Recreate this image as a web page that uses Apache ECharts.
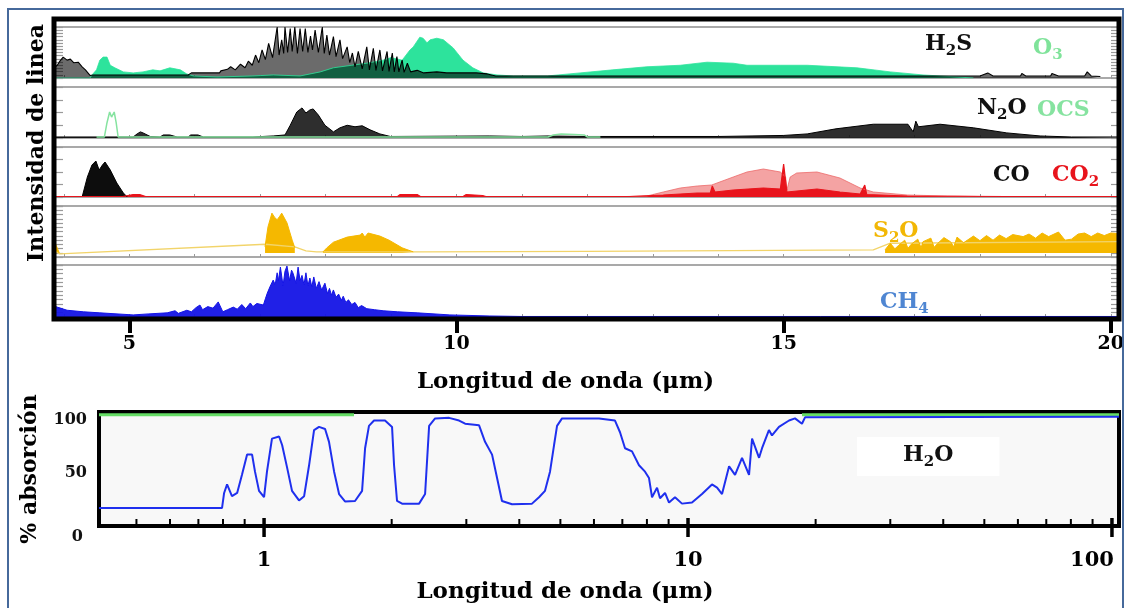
<!DOCTYPE html>
<html><head><meta charset="utf-8">
<script src="https://cdn.jsdelivr.net/npm/echarts@6.0.0/dist/echarts.min.js"></script>
<style>html,body{margin:0;padding:0;background:#fff}#c{width:1125px;height:608px}</style>
</head><body><div id="c"></div>
<script>
// ---------- data ----------
const topTickValues = [5, 10, 15, 20];
const topMinorValues = [4,5,6,7,8,9,10,11,12,13,14,15,16,17,18,19,20];
const logMajorTicks = [1, 10, 100];
const logMinorTicks = [0.5,0.6,0.7,0.8,0.9,2,3,4,5,6,7,8,9,20,30,40,50,60,70,80,90];

// panel 1: O3 (green) and H2S (black), wavelength µm, relative intensity %
const o3Band = [[3.85,0],[4.40,0],[4.43,6],[4.50,16],[4.55,35],[4.60,41],[4.66,41],[4.71,25],[4.78,20],[4.91,12],[5.06,10],[5.21,12],[5.36,16],[5.47,14],[5.62,20],[5.78,16],[5.88,8],[5.98,4],[6.34,2],[6.89,4],[7.20,6],[7.61,4],[7.92,12],[8.12,20],[8.40,25],[8.63,29],[8.88,35],[9.00,40],[9.17,35],[9.29,55],[9.34,61],[9.44,80],[9.49,78],[9.55,69],[9.60,75],[9.70,78],[9.80,75],[9.95,59],[10.10,35],[10.25,20],[10.41,10],[10.62,6],[10.87,4],[11.39,4],[11.89,10],[12.39,16],[12.91,22],[13.42,25],[13.83,31],[14.23,29],[14.44,25],[14.95,25],[15.36,25],[16.12,20],[16.63,12],[17.13,6],[17.65,2],[17.90,0]];
const h2sLines = [[3.85,20],[3.90,25],[3.94,33],[3.99,41],[4.05,35],[4.10,37],[4.15,30],[4.22,31],[4.28,22],[4.33,16],[4.40,5],[4.45,6],[5.90,6],[5.95,10],[6.38,10],[6.40,14],[6.50,17],[6.55,22],[6.62,16],[6.70,27],[6.77,20],[6.82,33],[6.88,25],[6.93,45],[6.98,30],[7.03,55],[7.08,36],[7.13,68],[7.19,40],[7.26,100],[7.29,45],[7.33,75],[7.36,48],[7.38,100],[7.42,50],[7.46,97],[7.49,52],[7.53,100],[7.57,48],[7.61,97],[7.65,52],[7.69,97],[7.73,50],[7.77,82],[7.80,55],[7.84,94],[7.89,50],[7.95,100],[7.98,48],[8.02,84],[8.06,45],[8.12,81],[8.16,42],[8.22,75],[8.26,38],[8.33,61],[8.37,30],[8.41,49],[8.45,22],[8.50,52],[8.56,18],[8.63,61],[8.67,16],[8.73,58],[8.77,15],[8.83,55],[8.87,14],[8.94,52],[8.97,13],[9.02,49],[9.05,12],[9.09,42],[9.12,12],[9.17,35],[9.20,11],[9.25,29],[9.30,12],[9.40,15],[9.50,10],[9.70,12],[9.85,10],[10.30,10],[10.47,8],[10.60,4],[18.00,4],[18.12,10],[18.20,4],[18.62,4],[18.64,9],[18.70,4],[19.08,4],[19.10,9],[19.20,4],[19.60,4],[19.64,12],[19.70,4],[19.84,3]];

// panel 2: N2O (black) and OCS (green)
const n2oBand = [[3.85,2],[5.06,2],[5.12,8],[5.17,12],[5.21,10],[5.32,3],[5.47,2],[5.52,6],[5.62,6],[5.73,2],[5.90,2],[5.94,6],[6.05,6],[6.13,2],[6.89,2],[7.20,4],[7.38,6],[7.46,25],[7.56,51],[7.64,59],[7.70,49],[7.76,55],[7.81,57],[7.89,45],[7.99,25],[8.12,12],[8.22,20],[8.33,25],[8.45,22],[8.56,24],[8.68,16],[8.83,8],[8.99,3],[10.50,4],[11.00,3],[11.40,4],[12.00,3],[14.00,3],[15.00,5],[15.36,8],[15.80,18],[16.37,27],[16.90,27],[16.98,12],[17.02,33],[17.06,22],[17.39,27],[17.90,20],[18.41,10],[18.92,4],[19.40,2],[20.125,2]];
const ocsLine = [[4.50,2],[4.62,2],[4.66,30],[4.70,51],[4.73,41],[4.77,51],[4.80,30],[4.83,2],[11.40,2],[11.48,6],[11.60,8],[11.80,7],[11.95,6],[12.00,2],[12.20,2]];

// panel 3: CO (black) and CO2 (red)
const coBand = [[4.28,0],[4.36,40],[4.43,64],[4.49,72],[4.54,54],[4.59,64],[4.63,70],[4.71,54],[4.81,28],[4.91,8],[4.97,0]];
const co2Envelope = [[12.60,1],[12.91,2],[13.16,10],[13.42,18],[13.68,22],[13.90,24],[14.23,40],[14.44,50],[14.69,56],[14.95,50],[15.03,40],[15.05,14],[15.10,40],[15.20,48],[15.51,50],[15.86,38],[16.17,18],[16.37,10],[16.89,4],[17.50,2],[18.00,1]];
const co2Core = [[3.85,1],[4.90,1],[5.06,5],[5.16,5],[5.25,1],[9.10,1],[9.14,5],[9.40,5],[9.45,1],[10.10,1],[10.15,5],[10.40,3],[10.45,1],[12.60,1],[12.61,3],[12.65,1],[13.16,4],[13.68,8],[13.88,8],[13.91,22],[13.95,10],[14.23,14],[14.69,18],[14.95,16],[15.00,66],[15.05,10],[15.51,16],[15.86,10],[16.17,6],[16.24,24],[16.27,5],[16.89,2],[18.40,1],[18.41,5],[18.45,1],[20.125,1]];

// panel 4: S2O (amber)
const s2oLine = [[3.85,12],[3.94,6],[7.08,25],[7.53,20],[7.70,12],[7.86,10],[9.49,10],[12.00,11],[16.37,14],[16.63,27],[20.125,30]];
const s2oBand = [[3.85,33],[3.88,33],[3.93,8],[3.95,null],[7.05,null],[7.075,20],[7.12,59],[7.18,86],[7.22,78],[7.26,73],[7.30,80],[7.33,86],[7.41,67],[7.49,33],[7.53,18],[7.55,null],[7.93,null],[7.96,10],[8.02,18],[8.12,29],[8.33,39],[8.53,43],[8.56,47],[8.60,39],[8.65,47],[8.83,41],[8.97,33],[9.17,18],[9.34,10],[9.40,null],[16.50,null],[16.55,14],[16.63,27],[16.70,16],[16.75,22],[16.85,33],[16.90,17],[16.95,25],[17.05,35],[17.10,18],[17.13,30],[17.25,37],[17.30,19],[17.35,26],[17.45,38],[17.55,30],[17.60,20],[17.65,39],[17.75,28],[17.90,41],[18.00,32],[18.10,42],[18.20,33],[18.30,43],[18.40,36],[18.50,44],[18.66,40],[18.75,45],[18.85,37],[18.95,47],[19.05,40],[19.20,49],[19.30,33],[19.40,35],[19.50,45],[19.60,47],[19.70,40],[19.80,47],[19.90,42],[20.00,47],[20.125,46]];

// panel 5: CH4 (blue)
const ch4Band = [[3.85,21],[3.90,19],[4.05,13],[4.30,10],[4.55,8],[5.06,4],[5.30,6],[5.58,8],[5.70,12],[5.75,7],[5.88,13],[5.95,10],[6.02,18],[6.08,23],[6.12,14],[6.20,20],[6.28,17],[6.36,29],[6.39,30],[6.43,10],[6.50,14],[6.59,19],[6.65,15],[6.72,24],[6.78,16],[6.85,27],[6.89,20],[6.95,26],[7.05,23],[7.08,35],[7.11,46],[7.15,58],[7.20,71],[7.23,62],[7.26,85],[7.28,70],[7.31,96],[7.35,60],[7.38,88],[7.41,98],[7.45,70],[7.48,90],[7.50,85],[7.55,65],[7.58,96],[7.61,70],[7.64,80],[7.67,62],[7.70,85],[7.73,60],[7.76,75],[7.79,58],[7.82,77],[7.86,55],[7.90,68],[7.94,52],[7.99,65],[8.03,45],[8.06,55],[8.09,42],[8.12,52],[8.16,38],[8.20,44],[8.24,32],[8.27,40],[8.31,28],[8.35,33],[8.40,24],[8.45,28],[8.50,18],[8.55,22],[8.63,16],[8.75,14],[8.88,12],[9.10,10],[9.40,8],[9.90,4],[10.50,2],[11.00,1],[20.125,1]];

// bottom panel: H2O absorption (%) vs wavelength (µm, log)
const h2oAbsorption = [[0.408,17],[0.796,17],[0.805,31],[0.818,39],[0.840,28],[0.864,31],[0.887,48],[0.912,67],[0.937,67],[0.952,51],[0.973,33],[1.000,27],[1.016,51],[1.044,82],[1.085,84],[1.103,76],[1.133,55],[1.164,33],[1.209,24],[1.243,28],[1.277,57],[1.312,90],[1.348,93],[1.393,91],[1.423,79],[1.463,51],[1.503,30],[1.552,23],[1.639,23.5],[1.703,33],[1.731,73],[1.768,94],[1.817,99],[1.929,99],[2.004,93],[2.026,57],[2.059,23.5],[2.116,21],[2.321,21],[2.398,30],[2.451,94],[2.532,101],[2.732,101.5],[2.884,99],[2.980,96],[3.215,94.5],[3.321,79],[3.450,67],[3.545,45],[3.641,23.5],[3.845,20.4],[4.286,21],[4.452,27],[4.599,33],[4.726,51],[4.831,76],[4.910,94],[5.045,101],[6.168,101],[6.726,99],[6.912,88],[7.103,73],[7.378,70],[7.663,57],[7.918,51],[8.091,45],[8.225,27],[8.452,36],[8.590,26],[8.827,31],[9.020,22],[9.318,27],[9.679,21],[10.22,22],[10.79,30],[11.39,39],[11.71,36],[12.03,30],[12.50,56],[12.91,48],[13.41,64],[13.93,48],[14.16,82],[14.71,64],[14.95,73],[15.52,90],[15.78,85],[16.39,93],[17.31,99],[17.88,101],[18.57,96],[18.88,102],[103.9,102.5]];
const saturation = [[0.408,104.5],[1.63,104.5],[5,null],[18.57,104.5],[103.9,104.5]];

// ---------- chart ----------
const FONT = 'DejaVu Serif';
const chart = echarts.init(document.getElementById('c'), null, {renderer: 'canvas'});

const panels = [
  {top: 27, height: 51, interval: 6.25},
  {top: 87, height: 51, interval: 25},
  {top: 147, height: 50, interval: 25},
  {top: 206, height: 51, interval: 100/12},
  {top: 265, height: 52, interval: 100/12}
];

const grids = [{left: 54, right: 6, top: 19, bottom: 289, show: true, borderColor: '#000', borderWidth: 5, backgroundColor: 'transparent', z: 20, outerBoundsMode: 'none'}];
panels.forEach(p => grids.push({left: 54, right: 6, top: p.top, height: p.height, show: true, borderColor: '#a9a9a9', borderWidth: 2, backgroundColor: 'transparent', outerBoundsMode: 'none'}));
grids.push({left: 99, right: 6, top: 412, bottom: 82, show: true, borderColor: '#000', borderWidth: 4, backgroundColor: '#f8f8f8', outerBoundsMode: 'none'});

const boldText = (size, color) => ({fontFamily: FONT, fontWeight: 'bold', fontSize: size, color: color || '#000'});

const xAxes = [{
  gridIndex: 0, type: 'value', min: 3.85, max: 20.125,
  axisLine: {show: false}, splitLine: {show: false},
  axisTick: {show: true, customValues: topTickValues, length: 14, lineStyle: {color: '#000', width: 4}},
  axisLabel: Object.assign({customValues: topTickValues, margin: 16}, boldText(19)),
  name: 'Longitud de onda (μm)', nameLocation: 'middle', nameGap: 52,
  nameTextStyle: Object.assign({padding: [0, 42, 0, 0]}, boldText(23))
}];
panels.forEach((p, i) => xAxes.push({
  gridIndex: i + 1, type: 'value', min: 3.85, max: 20.125,
  axisLine: {show: false}, splitLine: {show: false}, axisLabel: {show: false},
  axisTick: {show: true, inside: true, length: 3, customValues: topMinorValues, lineStyle: {color: '#999'}}
}));
xAxes.push({
  gridIndex: 6, type: 'log', logBase: 10, min: 0.408, max: 103.9,
  axisLine: {show: false}, axisTick: {show: false}, splitLine: {show: false},
  axisLabel: Object.assign({
    margin: 24,
    formatter: v => {
      const l = Math.log10(v);
      if (Math.abs(l - Math.round(l)) > 1e-6) return '';
      const s = String(Math.round(v));
      return s === '100' ? '{r|100}' : s;
    },
    rich: {r: Object.assign({padding: [0, 40, 0, 0]}, boldText(21))}
  }, boldText(21)),
  name: 'Longitud de onda (μm)', nameLocation: 'middle', nameGap: 55,
  nameTextStyle: Object.assign({padding: [0, 88, 0, 0]}, boldText(23))
});

const yAxes = [{
  gridIndex: 0, type: 'value', min: 0, max: 1,
  axisLine: {show: false}, axisTick: {show: false}, axisLabel: {show: false}, splitLine: {show: false},
  name: 'Intensidad de linea', nameLocation: 'middle', nameGap: 6,
  nameTextStyle: Object.assign({padding: [0, 0, 0, 52]}, boldText(22))
}];
['left', 'right'].forEach(pos => panels.forEach((p, i) => yAxes.push({
  gridIndex: i + 1, type: 'value', min: 0, max: 100, interval: p.interval, position: pos,
  axisLine: {show: false}, axisLabel: {show: false}, splitLine: {show: false},
  axisTick: {show: true, inside: true, length: pos === 'left' ? 9 : 8, lineStyle: {color: '#9a9a9a', width: 1.2}}
})));
yAxes.push({
  gridIndex: 6, type: 'value', min: 0, max: 107, interval: 50,
  axisLine: {show: false}, axisTick: {show: false}, splitLine: {show: false},
  axisLabel: Object.assign({
    margin: 12,
    formatter: v => (v === 0 ? '{z|0}' : (v % 50 === 0 ? String(v) : '')),
    rich: {z: Object.assign({padding: [22, 4, 0, 0]}, boldText(16, '#111'))}
  }, boldText(16, '#111')),
  name: '% absorción', nameLocation: 'middle', nameGap: 58,
  nameTextStyle: boldText(22)
});

function band(name, data, xi, color, opacity, lineColor, lineWidth, origin) {
  const area = {color: color, opacity: opacity};
  if (origin !== undefined) area.origin = origin;
  return {
    name, type: 'line', data, xAxisIndex: xi, yAxisIndex: xi,
    showSymbol: false, symbol: 'none', silent: true,
    lineStyle: {color: lineColor || color, width: lineWidth === undefined ? 1 : lineWidth},
    areaStyle: area
  };
}
function line(name, data, xi, yi, color, width) {
  return {
    name, type: 'line', data, xAxisIndex: xi, yAxisIndex: yi,
    showSymbol: false, symbol: 'none', silent: true,
    lineStyle: {color, width}
  };
}

const series = [
  band('O3', o3Band, 1, '#2de39c', 1, '#2de39c', 0.8),
  band('H2S', h2sLines, 1, '#000', 0.58, '#000', 1.1),
  band('N2O', n2oBand, 2, '#111', 0.88, '#000', 1),
  line('OCS', ocsLine, 2, 2, '#86e3a0', 1.5),
  band('CO', coBand, 3, '#000', 0.95, '#000', 1),
  band('CO2 envelope', co2Envelope, 3, '#f4a3a3', 1, '#ec6a6a', 0.8),
  band('CO2', co2Core, 3, '#e8141c', 1, '#e8141c', 1.2),
  line('S2O', s2oLine, 4, 4, '#f2d46a', 1.3),
  band('S2O band', s2oBand, 4, '#f5b800', 1, '#f5b800', 1, 8),
  band('CH4', ch4Band, 5, '#1414e6', 0.95, '#1414e6', 1),
  line('saturation', saturation, 6, 11, '#66dd66', 3),
  line('H2O', h2oAbsorption, 6, 11, '#1f30ee', 2),
  {
    type: 'custom', xAxisIndex: 6, yAxisIndex: 11, silent: true, z: 25,
    data: logMinorTicks.map(v => [v, 0]),
    renderItem: (params, api) => {
      const p = api.coord([api.value(0), 0]);
      return {type: 'line', shape: {x1: p[0], y1: p[1] - 2, x2: p[0], y2: p[1] - 7}, style: {stroke: '#000', lineWidth: 2}};
    }
  },
  {
    type: 'custom', xAxisIndex: 6, yAxisIndex: 11, silent: true, z: 25,
    data: logMajorTicks.map(v => [v, 0]),
    renderItem: (params, api) => {
      const p = api.coord([api.value(0), 0]);
      return {type: 'line', shape: {x1: p[0], y1: p[1] - 8, x2: p[0], y2: p[1] + 11}, style: {stroke: '#000', lineWidth: 3.5}};
    }
  }
];

function rich(color, size) {
  return {
    n: {fontFamily: FONT, fontWeight: 'bold', fontSize: size, color, lineHeight: size + 8},
    s: {fontFamily: FONT, fontWeight: 'bold', fontSize: Math.round(size * 0.7), color, lineHeight: Math.round(size * 0.55), verticalAlign: 'bottom'}
  };
}
const labelDefs = [
  {text: '{n|H}{s|2}{n|S}', left: 925, top: 29, color: '#111'},
  {text: '{n|O}{s|3}', left: 1033, top: 33, color: '#7fe39a'},
  {text: '{n|N}{s|2}{n|O}', left: 977, top: 93, color: '#111'},
  {text: '{n|OCS}', left: 1037, top: 95, color: '#86e3a0'},
  {text: '{n|CO}', left: 993, top: 160, color: '#111'},
  {text: '{n|CO}{s|2}', left: 1052, top: 160, color: '#e8141c'},
  {text: '{n|S}{s|2}{n|O}', left: 873, top: 216, color: '#f2b705'},
  {text: '{n|CH}{s|4}', left: 880, top: 287, color: '#4f86d2'}
];
const titles = labelDefs.map(d => ({
  text: d.text, left: d.left, top: d.top, padding: 0,
  textStyle: {rich: rich(d.color, 22)}
}));
titles.push({
  text: '{n|H}{s|2}{n|O}', left: 857, top: 433, padding: [7, 46, 6, 46], backgroundColor: '#fff',
  textStyle: {rich: rich('#111', 22)}
});

chart.setOption({
  animation: false,
  backgroundColor: '#fff',
  title: titles,
  grid: grids,
  xAxis: xAxes,
  yAxis: yAxes,
  series: series,
  graphic: [{
    type: 'rect', shape: {x: 8, y: 9, width: 1115, height: 640},
    style: {fill: 'none', stroke: '#46699b', lineWidth: 2}, silent: true, z: 100
  }]
});
</script>
</body></html>
